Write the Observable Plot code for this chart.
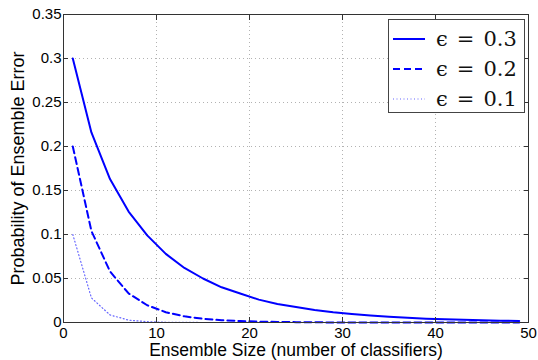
<!DOCTYPE html>
<html>
<head>
<meta charset="utf-8">
<script src="https://cdn.jsdelivr.net/npm/d3@7"></script>
<script src="https://cdn.jsdelivr.net/npm/@observablehq/plot@0.6"></script>
<style>
  html, body { margin: 0; padding: 0; background: #fff; }
  #wrap { position: relative; width: 538px; height: 360px; font-family: "Liberation Sans", Arial, sans-serif; }
  #legend { position: absolute; left: 388px; top: 19px; width: 137px; height: 94px; background: #fff; border: 1px solid #444; box-sizing: border-box; }
  .row { position: absolute; left: 0; height: 30px; display: flex; align-items: center; }
  .row svg { margin-left: 4px; }
  .lab { font-family: "DejaVu Serif", "Liberation Serif", serif; font-size: 21px; margin-left: 11px; white-space: nowrap; color: #111; }
  .eq { margin: 0 9px; }
</style>
</head>
<body>
<div id="wrap"></div>
<script>
// Ensemble size (odd numbers of classifiers)
const sizes = [1,3,5,7,9,11,13,15,17,19,21,23,25,27,29,31,33,35,37,39,41,43,45,47,49];
// Probability of ensemble error
const err03 = [0.300,0.216,0.163,0.126,0.099,0.078,0.062,0.050,0.040,0.033,0.026,0.021,0.0175,0.0143,0.0117,0.0096,0.0079,0.0065,0.0053,0.0044,0.0036,0.0030,0.0025,0.0020,0.0017];
const err02 = [0.200,0.104,0.058,0.033,0.0196,0.0117,0.0070,0.0042,0.0026,0.0016,0.0010,0.0006,0.0004,0.0002,0.0001,0.0001,0,0,0,0,0,0,0,0,0];
const err01 = [0.100,0.028,0.0086,0.0027,0.0009,0.0003,0.0001,0,0,0,0,0,0,0,0,0,0,0,0,0,0,0,0,0,0];
const seriesNames = ["\u03f5 = 0.3", "\u03f5 = 0.2", "\u03f5 = 0.1"];
const xTicks = [0,10,20,30,40,50];
const yTicks = [0,0.05,0.1,0.15,0.2,0.25,0.3,0.35];

const rows = sizes.map((n, i) => ({n, e03: err03[i], e02: err02[i], e01: err01[i]}));
const fmt = d => String(+d.toFixed(2));

const chart = Plot.plot({
  width: 538,
  height: 360,
  marginLeft: 63,
  marginRight: 10,
  marginTop: 14,
  marginBottom: 38,
  style: {fontFamily: "Liberation Sans, Arial, sans-serif", fontSize: "12px", color: "#000", background: "#fff"},
  x: {domain: [0, 50]},
  y: {domain: [0, 0.35]},
  marks: [
    Plot.gridX(xTicks, {stroke: "#aaa", strokeOpacity: 0.9, strokeDasharray: "1,3"}),
    Plot.gridY(yTicks, {stroke: "#aaa", strokeOpacity: 0.9, strokeDasharray: "1,3"}),
    Plot.line(rows, {x: "n", y: "e01", stroke: "#0000ff", strokeWidth: 1.2, strokeOpacity: 0.6, strokeDasharray: "1,2.5"}),
    Plot.line(rows, {x: "n", y: "e02", stroke: "#0000ff", strokeWidth: 2, strokeDasharray: "7,4"}),
    Plot.line(rows, {x: "n", y: "e03", stroke: "#0000ff", strokeWidth: 2}),
    Plot.frame({stroke: "#333"}),
    Plot.axisX({ticks: xTicks, tickSize: -5, tickPadding: 10, tickFormat: d => d, label: null, stroke: "#333", fontSize: 15}),
    Plot.axisX({anchor: "top", ticks: xTicks, tickSize: -5, tickFormat: () => "", label: null, stroke: "#333"}),
    Plot.axisY({ticks: yTicks, tickSize: -5, tickPadding: 7, tickFormat: fmt, label: null, stroke: "#333", fontSize: 15}),
    Plot.axisY({anchor: "right", ticks: yTicks, tickSize: -5, tickFormat: () => "", label: null, stroke: "#333"}),
    Plot.text(["Probability of Ensemble Error"], {frameAnchor: "left", textAnchor: "middle", lineAnchor: "middle", dx: -45, rotate: -90, fontSize: 18, fill: "#000"}),
    Plot.text(["Ensemble Size (number of classifiers)"], {frameAnchor: "bottom", textAnchor: "middle", lineAnchor: "middle", dy: 28, fontSize: 17.5, fill: "#000"})
  ]
});

const wrap = document.getElementById("wrap");
wrap.appendChild(chart);

// Legend
const styles = [
  {dash: "", width: 2, op: 1},
  {dash: "7,4", width: 2, op: 1},
  {dash: "1,2.5", width: 1.2, op: 0.6}
];
const legend = document.createElement("div");
legend.id = "legend";
seriesNames.forEach((name, i) => {
  const row = document.createElement("div");
  row.className = "row";
  row.style.top = (4 + i * 30) + "px";
  const s = styles[i];
  const parts = name.split(" = ");
  row.innerHTML = `<svg width="32" height="10"><line x1="0" y1="5" x2="32" y2="5" stroke="#0000ff" stroke-width="${s.width}" stroke-opacity="${s.op}" ${s.dash ? `stroke-dasharray="${s.dash}"` : ""}/></svg><span class="lab">${parts[0]}<span class="eq">=</span>${parts[1]}</span>`;
  legend.appendChild(row);
});
wrap.appendChild(legend);
</script>
</body>
</html>
